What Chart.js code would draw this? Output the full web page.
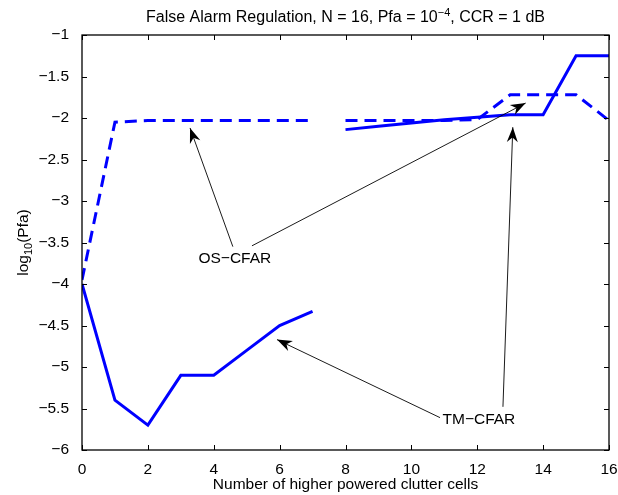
<!DOCTYPE html>
<html>
<head>
<meta charset="utf-8">
<script src="https://cdn.jsdelivr.net/npm/chart.js@4/dist/chart.umd.min.js"></script>
<style>
  html, body { margin: 0; padding: 0; background: #fff; }
  #wrap { width: 618px; height: 495px; }
</style>
</head>
<body>
<div id="wrap"><canvas id="pfaChart"></canvas></div>
<script>
// number of higher powered clutter cells
const cells = [0, 1, 2, 3, 4, 5, 6, 7, 8, 9, 10, 11, 12, 13, 14, 15, 16];
// log10(Pfa) per detector
const osCfar = [-3.95, -2.05, -2.03, -2.03, -2.03, -2.03, -2.03, -2.03, -2.03, -2.03, -2.03, -2.03, -2.02, -1.72, -1.72, -1.72, -2.03];
const tmCfar = [-4.0, -5.4, -5.7, -5.1, -5.1, -4.8, -4.5, -4.33, -2.14, -2.1, -2.06, -2.02, -1.99, -1.96, -1.96, -1.25, -1.25];
// no result computed between 7 and 8 cells
const breakAfter = 7;

const xTicks = [0, 2, 4, 6, 8, 10, 12, 14, 16];
const yTicks = [-6, -5.5, -5, -4.5, -4, -3.5, -3, -2.5, -2, -1.5, -1];

// text callouts: label position and arrows (tail -> tip) in data units
const callouts = [
    { text: 'OS\u2212CFAR', at: [4.64, -3.69], arrows: [[[4.58, -3.55], [3.28, -2.12]], [[5.16, -3.54], [13.47, -1.82]]] },
    { text: 'TM\u2212CFAR', at: [12.05, -5.63], arrows: [[[10.87, -5.61], [5.92, -4.67]], [[12.78, -5.48], [13.08, -2.11]]] }
];

const BLUE = '#0000ff';
const FONT = '"Liberation Sans", Arial, Helvetica, sans-serif';
const SIZE = 15.5;

function toPoints(values) {
    return cells.map((c, i) => ({ x: c, y: values[i] }));
}

function minusSign(v) {
    return String(v).replace('-', '\u2212');
}

function arrow(ctx, x0, y0, x1, y1) {
    ctx.beginPath();
    ctx.moveTo(x0, y0);
    ctx.lineTo(x1, y1);
    ctx.stroke();
    const a = Math.atan2(y1 - y0, x1 - x0);
    const len = 15, half = 5.5;
    const bx = x1 - len * Math.cos(a), by = y1 - len * Math.sin(a);
    const nx = x1 - len * 0.7 * Math.cos(a), ny = y1 - len * 0.7 * Math.sin(a);
    ctx.beginPath();
    ctx.moveTo(x1, y1);
    ctx.lineTo(bx + half * Math.sin(a), by - half * Math.cos(a));
    ctx.lineTo(nx, ny);
    ctx.lineTo(bx - half * Math.sin(a), by + half * Math.cos(a));
    ctx.closePath();
    ctx.fill();
}

// draws a run of text pieces (normal, raised or lowered) centred on cx
function drawPieces(ctx, pieces, cx, y) {
    let total = 0;
    pieces.forEach(p => { ctx.font = p.f; p.w = ctx.measureText(p.t).width; total += p.w; });
    let x = cx - total / 2;
    ctx.textAlign = 'left';
    ctx.textBaseline = 'alphabetic';
    pieces.forEach(p => { ctx.font = p.f; ctx.fillText(p.t, x, y + p.dy); x += p.w; });
}

const frameAndText = {
    id: 'frameAndText',
    afterDatasetsDraw(chart) {
        const ctx = chart.ctx;
        const { left, right, top, bottom } = chart.chartArea;
        const xs = chart.scales.x, ys = chart.scales.y;
        ctx.save();
        ctx.strokeStyle = '#000';
        ctx.fillStyle = '#000';

        // box and inward ticks on all four sides
        ctx.lineWidth = 1.3;
        ctx.strokeRect(left, top, right - left, bottom - top);
        ctx.lineWidth = 1;
        ctx.beginPath();
        xTicks.forEach(t => {
            const px = Math.round(xs.getPixelForValue(t)) + 0.5;
            ctx.moveTo(px, bottom); ctx.lineTo(px, bottom - 5);
            ctx.moveTo(px, top); ctx.lineTo(px, top + 5);
        });
        yTicks.forEach(t => {
            const py = Math.round(ys.getPixelForValue(t)) + 0.5;
            ctx.moveTo(left, py); ctx.lineTo(left + 5, py);
            ctx.moveTo(right, py); ctx.lineTo(right - 5, py);
        });
        ctx.stroke();

        // callouts
        ctx.lineWidth = 0.9;
        ctx.font = SIZE + 'px ' + FONT;
        ctx.textAlign = 'center';
        ctx.textBaseline = 'middle';
        callouts.forEach(c => {
            ctx.fillText(c.text, xs.getPixelForValue(c.at[0]), ys.getPixelForValue(c.at[1]));
            c.arrows.forEach(([tail, tip]) => {
                arrow(ctx,
                    xs.getPixelForValue(tail[0]), ys.getPixelForValue(tail[1]),
                    xs.getPixelForValue(tip[0]), ys.getPixelForValue(tip[1]));
            });
        });

        // title with superscript exponent
        const cx = (left + right) / 2;
        drawPieces(ctx, [
            { t: 'False Alarm Regulation, N = 16, Pfa = 10', f: '16px ' + FONT, dy: 0 },
            { t: '\u22124', f: '11px ' + FONT, dy: -6 },
            { t: ', CCR = 1 dB', f: '16px ' + FONT, dy: 0 }
        ], cx, 22);

        // x axis label
        ctx.font = SIZE + 'px ' + FONT;
        ctx.textAlign = 'center';
        ctx.fillText('Number of higher powered clutter cells', cx, 489);

        // y axis label with subscript
        ctx.translate(28, (top + bottom) / 2);
        ctx.rotate(-Math.PI / 2);
        drawPieces(ctx, [
            { t: 'log', f: SIZE + 'px ' + FONT, dy: 0 },
            { t: '10', f: '11px ' + FONT, dy: 4 },
            { t: '(Pfa)', f: SIZE + 'px ' + FONT, dy: 0 }
        ], 0, 0);
        ctx.restore();
    }
};

const gapSegment = {
    borderColor: ctx => ctx.p0.parsed.x === breakAfter ? 'rgba(0,0,0,0)' : BLUE
};

new Chart(document.getElementById('pfaChart'), {
    type: 'line',
    data: {
        datasets: [
            {
                label: 'OS-CFAR',
                data: toPoints(osCfar),
                borderColor: BLUE,
                borderWidth: 3,
                borderDash: [12, 7],
                pointRadius: 0,
                tension: 0,
                segment: gapSegment
            },
            {
                label: 'TM-CFAR',
                data: toPoints(tmCfar),
                borderColor: BLUE,
                borderWidth: 3,
                pointRadius: 0,
                tension: 0,
                segment: gapSegment
            }
        ]
    },
    options: {
        responsive: true,
        maintainAspectRatio: false,
        animation: false,
        layout: { padding: { top: 35, right: 9, left: 0, bottom: 0 } },
        scales: {
            x: {
                type: 'linear',
                min: 0,
                max: 16,
                grid: { display: false },
                border: { display: false },
                afterFit: scale => {
                    scale.height = 45;
                    scale.paddingLeft = 0;
                    scale.paddingRight = 0;
                },
                afterBuildTicks: scale => { scale.ticks = xTicks.map(v => ({ value: v })); },
                ticks: {
                    padding: 2,
                    maxRotation: 0,
                    color: '#000',
                    font: { family: FONT, size: SIZE },
                    callback: minusSign
                }
            },
            y: {
                min: -6,
                max: -1,
                grid: { display: false },
                border: { display: false },
                afterFit: scale => {
                    scale.width = 82;
                    scale.paddingTop = 0;
                    scale.paddingBottom = 0;
                },
                afterBuildTicks: scale => { scale.ticks = yTicks.map(v => ({ value: v })); },
                ticks: {
                    padding: 5,
                    color: '#000',
                    font: { family: FONT, size: SIZE },
                    callback: minusSign
                }
            }
        },
        plugins: {
            legend: { display: false },
            title: { display: false },
            tooltip: { enabled: false }
        }
    },
    plugins: [frameAndText]
});
</script>
</body>
</html>
